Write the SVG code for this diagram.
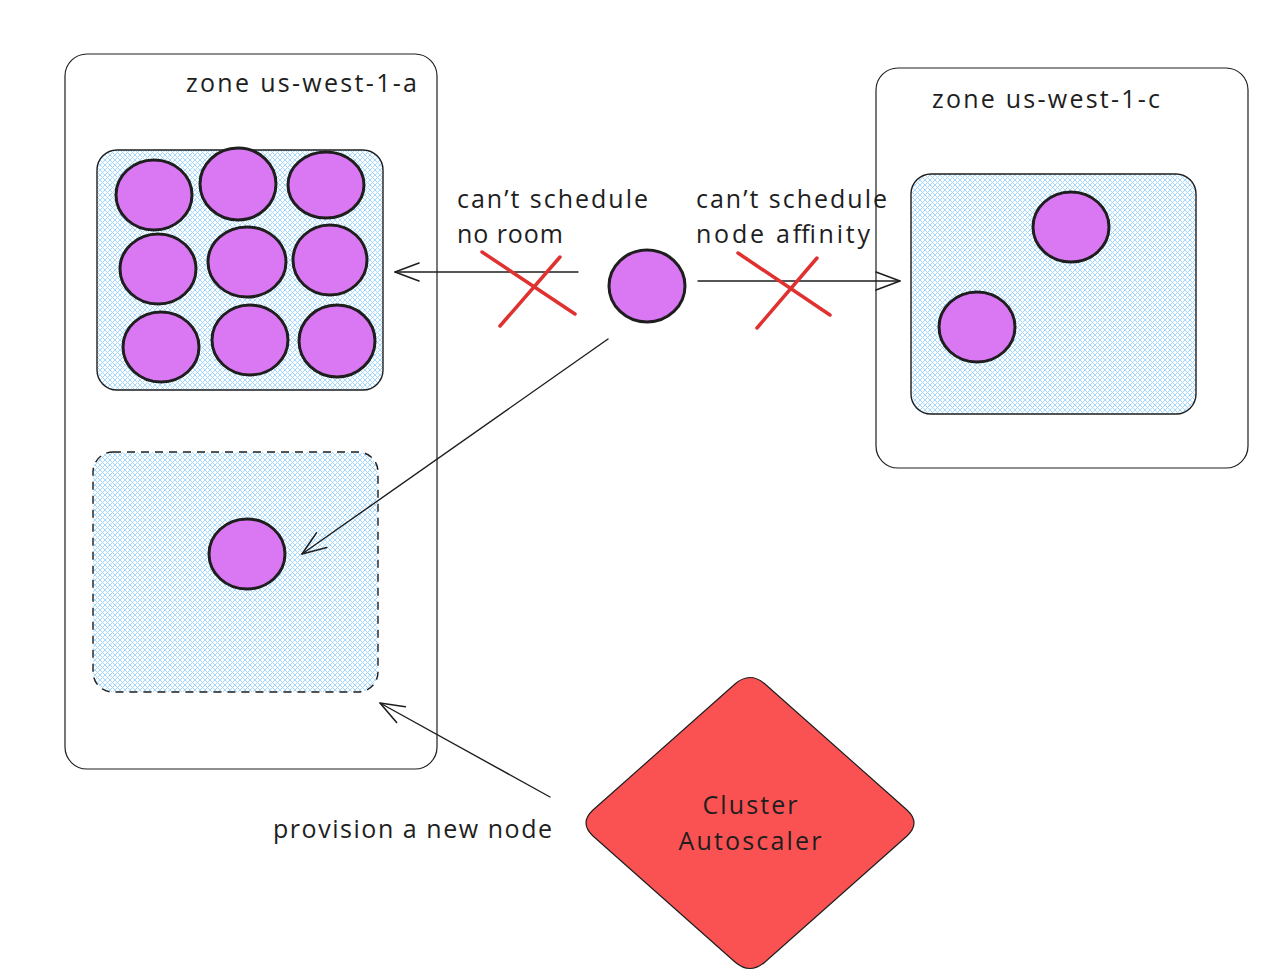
<svg xmlns="http://www.w3.org/2000/svg" width="1262" height="975" viewBox="0 0 1262 975">
<defs>
<pattern id="hatch" patternUnits="userSpaceOnUse" width="5" height="5">
<path d="M0,5 L5,0 M-1,1 L1,-1 M4,6 L6,4" stroke="#a5d8ff" stroke-width="1"/>
<path d="M0,0 L5,5 M-1,4 L1,6 M4,-1 L6,1" stroke="#a5d8ff" stroke-width="1"/>
</pattern>
<marker id="arr" markerUnits="userSpaceOnUse" markerWidth="40" markerHeight="30" viewBox="-30 -15 35 30" refX="0" refY="0" orient="auto" overflow="visible">
<path d="M-24,-9 L0,0 L-24,9" fill="none" stroke="#1e1e1e" stroke-width="1.6" stroke-linecap="round" stroke-linejoin="round"/>
</marker>
</defs>
<style>
.zone{fill:#ffffff;stroke:#1e1e1e;stroke-width:1.2}
.box{fill:url(#hatch);stroke:#1e1e1e;stroke-width:1.4}
.dash{fill:url(#hatch);stroke:#1e1e1e;stroke-width:1.4;stroke-dasharray:8 6}
.pod{fill:#da77f2;stroke:#1e1e1e;stroke-width:3}
.txt{font-family:"Open Sans","Liberation Sans",sans-serif;font-size:25px;fill:#1e1e1e}
.conn{fill:none;stroke:#1e1e1e;stroke-width:1.4;stroke-linecap:round}
.x{fill:none;stroke:#e03131;stroke-width:3.5;stroke-linecap:round}
</style>
<rect width="1262" height="975" fill="#ffffff"/>

<g id="zone-a">
<rect class="zone" x="65" y="54" width="372" height="715" rx="22"/>
<text class="txt" x="186" y="92" textLength="231">zone us-west-1-a</text>
</g>

<g id="node-a1">
<rect class="box" x="97" y="150" width="286" height="240" rx="20"/>
<ellipse class="pod" cx="154" cy="195" rx="38" ry="35"/>
<ellipse class="pod" cx="238" cy="184" rx="38" ry="36"/>
<ellipse class="pod" cx="326" cy="185" rx="38" ry="33"/>
<ellipse class="pod" cx="158" cy="269" rx="38" ry="35"/>
<ellipse class="pod" cx="247" cy="262" rx="39" ry="35"/>
<ellipse class="pod" cx="330" cy="260" rx="37" ry="35"/>
<ellipse class="pod" cx="161" cy="347" rx="38" ry="35"/>
<ellipse class="pod" cx="250" cy="340" rx="38" ry="35"/>
<ellipse class="pod" cx="337" cy="341" rx="38" ry="36"/>
</g>

<g id="node-a2">
<rect class="dash" x="93" y="452" width="285" height="240" rx="20"/>
<ellipse class="pod" cx="247" cy="554" rx="38" ry="35"/>
</g>

<g id="zone-c">
<rect class="zone" x="876" y="68" width="372" height="400" rx="22"/>
<text class="txt" x="932" y="108" textLength="228">zone us-west-1-c</text>
</g>

<g id="node-c1">
<rect class="box" x="911" y="174" width="285" height="240" rx="20"/>
<ellipse class="pod" cx="1071" cy="227" rx="38" ry="35"/>
<ellipse class="pod" cx="977" cy="327" rx="38" ry="35"/>
</g>

<g id="pending-pod">
<ellipse class="pod" cx="647" cy="286" rx="38" ry="36"/>
</g>

<g id="autoscaler">
<path d="M735,684 Q750,671 765,684 L907,810 Q921,823 907,836 L765,962 Q750,975 735,962 L593,836 Q579,823 593,810 Z" fill="#fa5252" stroke="#1e1e1e" stroke-width="1.2"/>
<text class="txt" x="750" y="814" text-anchor="middle" textLength="95">Cluster</text>
<text class="txt" x="750" y="850" text-anchor="middle" textLength="143">Autoscaler</text>
</g>

<g id="connectors">
<line class="conn" x1="578" y1="272" x2="395" y2="272" marker-end="url(#arr)"/>
<line class="conn" x1="698" y1="281" x2="900" y2="281" marker-end="url(#arr)"/>
<line class="conn" x1="608" y1="339" x2="302" y2="554" marker-end="url(#arr)"/>
<line class="conn" x1="550" y1="797" x2="380" y2="703" marker-end="url(#arr)"/>
</g>

<g id="labels">
<text class="txt" x="457" y="208" textLength="191">can’t schedule</text>
<text class="txt" x="457" y="243" textLength="106">no room</text>
<text class="txt" x="696" y="208" textLength="191">can’t schedule</text>
<text class="txt" x="696" y="243" textLength="174">node affinity</text>
<text class="txt" x="273" y="838" textLength="279">provision a new node</text>
</g>

<g id="crosses">
<path class="x" d="M482,252 L575,314 M560,257 L500,326"/>
<path class="x" d="M738,253 L830,315 M817,258 L757,328"/>
</g>
</svg>
